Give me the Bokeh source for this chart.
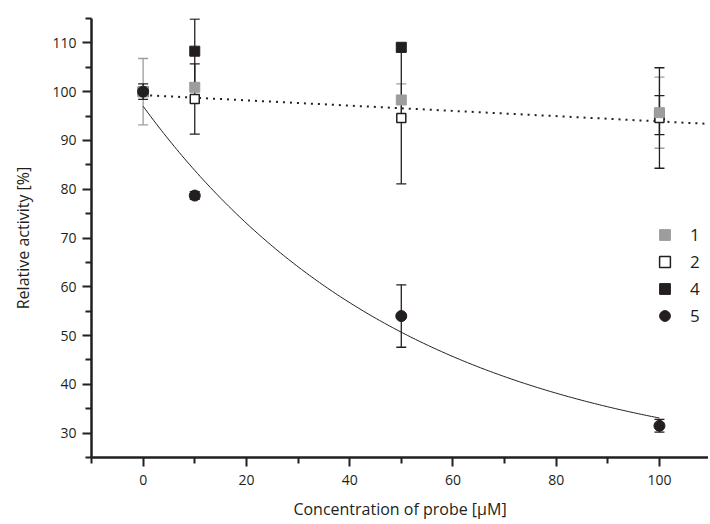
import numpy as np
from bokeh.plotting import figure
from bokeh.models import (ColumnDataSource, Whisker, TeeHead, Legend, LegendItem,
                          Range1d, FixedTicker)
from bokeh.embed import file_html
from bokeh.resources import INLINE

# ---- data ----
conc = [0, 10, 50, 100]
s1 = [100.0, 100.9, 98.3, 95.7]
e1 = [6.8, 0.0, 3.3, 7.3]
s2 = [100.0, 98.5, 94.6, 94.6]
e2 = [0.0, 7.2, 13.5, 10.3]
s4 = [100.0, 108.3, 109.1, 95.2]
e4 = [0.0, 6.6, 0.6, 4.0]
s5 = [100.0, 78.7, 54.0, 31.5]
e5 = [1.6, 0.8, 6.4, 1.3]
labels = ["1", "2", "4", "5"]

# fitted model lines
lin_a, lin_b = 99.3, -0.054          # dotted linear fit
exp_A, exp_k, exp_C = 74.7, 0.01935, 22.3  # exponential fit of series 5

x_ticks = [0, 20, 40, 60, 80, 100]
x_minor = [-10, 10, 30, 50, 70, 90]
y_ticks = [30, 40, 50, 60, 70, 80, 90, 100, 110]
y_minor = [25, 35, 45, 55, 65, 75, 85, 95, 105, 115]

INK = "#231f20"
GREY = "#9d9d9d"
FONT = "Open Sans"

p = figure(width=708, height=522, output_backend="svg", toolbar_location=None,
           x_range=Range1d(-10, 109.5), y_range=Range1d(25, 115),
           min_border_left=91, min_border_right=0, min_border_top=18,
           min_border_bottom=0)
p.outline_line_color = None
p.xgrid.visible = False
p.ygrid.visible = False
p.background_fill_color = "white"

for ax, ticks, minor in ((p.xaxis[0], x_ticks, x_minor), (p.yaxis[0], y_ticks, y_minor)):
    ax.ticker = FixedTicker(ticks=ticks, minor_ticks=minor)
    ax.axis_line_color = INK
    ax.axis_line_width = 2.5
    ax.major_tick_line_color = INK
    ax.major_tick_line_width = 2
    ax.minor_tick_line_color = INK
    ax.minor_tick_line_width = 2
    ax.major_tick_in = 0
    ax.minor_tick_in = 0
    ax.major_tick_out = 9
    ax.minor_tick_out = 6
    ax.major_label_text_font = FONT
    ax.major_label_text_font_size = "14px"
    ax.major_label_text_color = INK
    ax.axis_label_text_font = FONT
    ax.axis_label_text_font_size = "16px"
    ax.axis_label_text_font_style = "normal"
    ax.axis_label_text_color = INK

p.xaxis.axis_label = "Concentration of probe [µM]"
p.yaxis.axis_label = "Relative activity [%]"
p.xaxis.major_label_standoff = 8
p.yaxis.major_label_standoff = 6
p.xaxis.axis_label_standoff = 10
p.yaxis.axis_label_standoff = 15

# fit lines
xl = np.array([0, 109.5])
p.line(xl, lin_a + lin_b * xl, line_color=INK, line_width=2, line_dash="2 5")
xc = np.linspace(0, 100, 200)
p.line(xc, exp_A * np.exp(-exp_k * xc) + exp_C, line_color=INK, line_width=1)

def add_whisker(vals, errs, color):
    xs = [x for x, e in zip(conc, errs) if e > 0]
    up = [v + e for v, e in zip(vals, errs) if e > 0]
    lo = [v - e for v, e in zip(vals, errs) if e > 0]
    src = ColumnDataSource(dict(base=xs, upper=up, lower=lo))
    w = Whisker(source=src, base="base", upper="upper", lower="lower",
                line_color=color, line_width=1.3,
                upper_head=TeeHead(size=10, line_color=color, line_width=1.3),
                lower_head=TeeHead(size=10, line_color=color, line_width=1.3))
    p.add_layout(w)

add_whisker(s1, e1, GREY)
add_whisker(s2, e2, INK)
add_whisker(s4, e4, INK)
add_whisker(s5, e5, INK)

r4 = p.scatter(conc, s4, marker="square", size=10, fill_color=INK, line_color=INK)
r2 = p.scatter(conc, s2, marker="square", size=9, fill_color="white", line_color=INK, line_width=1.5)
r1 = p.scatter(conc, s1, marker="square", size=10, fill_color=GREY, line_color=GREY)
r5 = p.scatter(conc, s5, marker="circle", size=11, fill_color=INK, line_color=INK)

legend = Legend(items=[LegendItem(label=labels[0], renderers=[r1]),
                       LegendItem(label=labels[1], renderers=[r2]),
                       LegendItem(label=labels[2], renderers=[r4]),
                       LegendItem(label=labels[3], renderers=[r5])],
                location=(560, 128), orientation="vertical",
                border_line_color=None, background_fill_alpha=0,
                label_text_font=FONT, label_text_font_size="17px", label_text_color=INK,
                glyph_width=27, glyph_height=27, label_height=20, spacing=0,
                label_standoff=12, padding=0, margin=0)
p.add_layout(legend)

open("out.html", "w").write(file_html(p, INLINE))
